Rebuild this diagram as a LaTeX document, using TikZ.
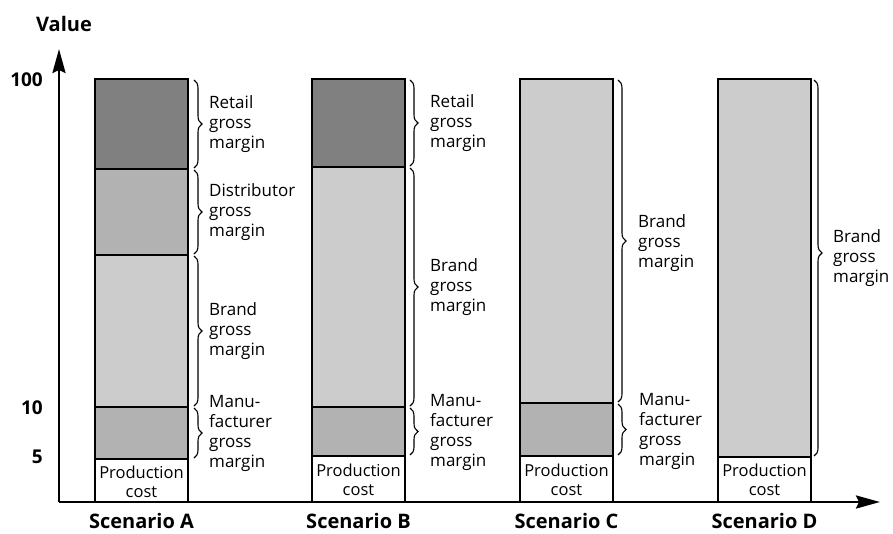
\documentclass[tikz,border=0pt]{standalone}
\usepackage{fontspec}
\setmainfont{Open Sans}
\usetikzlibrary{decorations.pathreplacing,arrows.meta}
\definecolor{dgray}{HTML}{808080}
\definecolor{mgray}{HTML}{B2B2B2}
\definecolor{lgray}{HTML}{CCCCCC}
\begin{document}
\begin{tikzpicture}[x=1pt,y=-1pt,
  seg/.style={draw=black,line width=1.3pt},
  brc/.style={decorate,decoration={brace,amplitude=8pt},line width=1.1pt},
  lbl/.style={anchor=west,align=left,font=\fontsize{17}{20}\selectfont,inner sep=0pt},
  pc/.style={align=center,font=\fontsize{16.5}{19}\selectfont,inner sep=0pt},
  ttl/.style={font=\fontsize{20}{22}\selectfont\bfseries,inner sep=0pt},
  tick/.style={anchor=east,font=\fontsize{19}{20}\selectfont\bfseries,inner sep=0pt},
  axis/.style={line width=2.6pt,-{Stealth[length=24pt,width=13pt,inset=3pt]}}]
\useasboundingbox (0,0) rectangle (893,533);
% Scenario A
\filldraw[seg,fill=dgray] (95,79) rectangle (188,169);
\filldraw[seg,fill=mgray] (95,169) rectangle (188,255);
\filldraw[seg,fill=lgray] (95,255) rectangle (188,407);
\filldraw[seg,fill=mgray] (95,407) rectangle (188,459);
\filldraw[seg,fill=white] (95,459) rectangle (188,502);
% Scenario B
\filldraw[seg,fill=dgray] (312,79) rectangle (405,167);
\filldraw[seg,fill=lgray] (312,167) rectangle (405,407);
\filldraw[seg,fill=mgray] (312,407) rectangle (405,456);
\filldraw[seg,fill=white] (312,456) rectangle (405,502);
% Scenario C
\filldraw[seg,fill=lgray] (520,79) rectangle (613,403);
\filldraw[seg,fill=mgray] (520,403) rectangle (613,456);
\filldraw[seg,fill=white] (520,456) rectangle (613,502);
% Scenario D
\filldraw[seg,fill=lgray] (718,79) rectangle (811,457);
\filldraw[seg,fill=white] (718,457) rectangle (811,502);
% production cost labels
\node[pc] (pA) at (141.5,482) {Production\\cost};
\node[pc] (pB) at (358.5,480) {Production\\cost};
\node[pc] (pC) at (566.5,480) {Production\\cost};
\node[pc] (pD) at (764.5,480) {Production\\cost};
% axes
\coordinate (O) at (59,502);
\coordinate (Ytop) at (59,49);
\coordinate (Xend) at (880,502);
\draw[axis] (O) -- (Ytop);
\draw[axis] (O) -- (Xend);
\node[ttl] (val) at (64,24) {Value};
\node[tick] (t100) at (43,80) {100};
\node[tick] (t10) at (43,408) {10};
\node[tick] (t5) at (43,457) {5};
\node[ttl,anchor=base] (sA) at (141.5,528) {Scenario A};
\node[ttl,anchor=base] (sB) at (358.5,528) {Scenario B};
\node[ttl,anchor=base] (sC) at (566.5,528) {Scenario C};
\node[ttl,anchor=base] (sD) at (764.5,528) {Scenario D};
% braces A
\draw[brc] (194,80) -- (194,168);
\draw[brc] (194,170) -- (194,254);
\draw[brc] (194,256) -- (194,406);
\draw[brc] (194,408) -- (194,458);
\node[lbl] (rA) at (209,124) {Retail\\gross\\margin};
\node[lbl] (dA) at (209,212) {Distributor\\gross\\margin};
\node[lbl] (bA) at (209,331) {Brand\\gross\\margin};
\node[lbl] (mA) at (209,433) {Manu-\\facturer\\gross\\margin};
% braces B
\draw[brc] (410,80) -- (410,166);
\draw[brc] (410,168) -- (410,406);
\draw[brc] (410,408) -- (410,455);
\node[lbl] (rB) at (430,123) {Retail\\gross\\margin};
\node[lbl] (bB) at (430,287) {Brand\\gross\\margin};
\node[lbl] (mB) at (430,432) {Manu-\\facturer\\gross\\margin};
% braces C
\draw[brc] (618,80) -- (618,402);
\draw[brc] (618,404) -- (618,455);
\node[lbl] (bC) at (638,243) {Brand\\gross\\margin};
\node[lbl] (mC) at (639,431) {Manu-\\facturer\\gross\\margin};
% braces D
\draw[brc,decoration={brace,amplitude=8pt,aspect=0.46}] (814,80) -- (814,456);
\node[lbl] (bD) at (833,258) {Brand\\gross\\margin};
\end{tikzpicture}
\end{document}
